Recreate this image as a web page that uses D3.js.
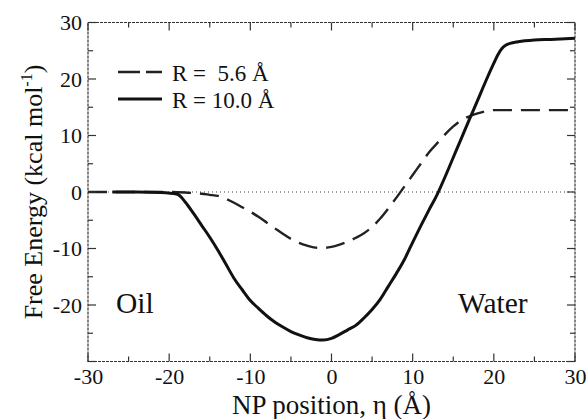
<!DOCTYPE html>
<html><head><meta charset="utf-8">
<script src="https://cdn.jsdelivr.net/npm/d3@7"></script>
<style>body{margin:0;background:#fff}svg{display:block}</style>
</head><body><svg id="c" width="588" height="419"></svg>
<script>
const etaSmall = [-30,-25,-20,-18,-16,-15,-14,-13,-12,-11,-10,-9,-8,-7,-6,-5,-4,-3,-2,-1,0,1,2,3,4,5,6,7,8,9,10,11,12,13,14,15,16,17,18,19,20,22,25,30];
const energySmall = [0,0,0,-0.1,-0.3,-0.5,-0.7,-1.2,-1.9,-2.7,-3.5,-4.4,-5.4,-6.4,-7.4,-8.3,-9.0,-9.5,-9.85,-9.9,-9.7,-9.3,-8.8,-8.1,-7.3,-6.2,-4.7,-2.9,-1.0,1.0,3.0,5.0,7.0,8.6,10.2,11.6,12.7,13.4,13.9,14.3,14.5,14.5,14.5,14.5];
const etaLarge = [-27,-24,-21,-19,-18,-17,-16,-15,-14,-13,-12,-11,-10,-9,-8,-7,-6,-5,-4,-3,-2,-1,0,1,2,3,4,5,6,7,8,9,10,11,12,13,14,15,16,17,18,19,20,20.5,21,21.5,22,23,25,27,30];
const energyLarge = [0,0,-0.1,-0.4,-1.8,-3.8,-5.9,-8.0,-10.3,-12.8,-15.3,-17.3,-19.2,-20.6,-21.9,-23.0,-23.9,-24.7,-25.3,-25.8,-26.1,-26.2,-25.9,-25.2,-24.4,-23.6,-22.3,-20.8,-19.0,-16.7,-14.4,-11.9,-8.9,-6.0,-3.2,-0.5,2.7,6.1,9.5,12.9,16.2,19.6,22.8,24.3,25.4,26.0,26.3,26.6,26.9,27.0,27.2];
const xTicks = [-30,-20,-10,0,10,20,30];
const yTicks = [-20,-10,0,10,20,30];
const legendLabels = ["R =  5.6 Å", "R = 10.0 Å"];
const regionLabels = ["Oil", "Water"];

const FONT = "Liberation Serif";
const svg = d3.select("#c");
const x = d3.scaleLinear().domain([-30,30]).range([88,575]);
const y = d3.scaleLinear().domain([-30,30]).range([361.5,22.5]);
const L = x.range()[0], R = x.range()[1], T = y.range()[1], B = y.range()[0];

svg.append("line").attr("x1",L).attr("x2",R).attr("y1",y(0)).attr("y2",y(0))
  .attr("stroke","#444").attr("stroke-width",1).attr("stroke-dasharray","1,3");

const line = d3.line().x(d=>x(d[0])).y(d=>y(d[1])).curve(d3.curveMonotoneX);
svg.append("path").datum(d3.zip(etaSmall,energySmall)).attr("d",line)
  .attr("fill","none").attr("stroke","#222").attr("stroke-width",2.4).attr("stroke-dasharray","19,9");
svg.append("path").datum(d3.zip(etaLarge,energyLarge)).attr("d",line)
  .attr("fill","none").attr("stroke","#111").attr("stroke-width",3);

const frame = svg.append("g").attr("stroke","#333").attr("stroke-width",1.2).attr("stroke-dasharray","3,1").attr("fill","none");
frame.append("rect").attr("x",L).attr("y",T).attr("width",R-L).attr("height",B-T);

const minorX = d3.range(-30,31,5), minorY = d3.range(-30,31,5);
const tk = svg.append("g").attr("stroke","#333").attr("stroke-width",1.2);
minorX.forEach(v=>{
  const len = v%10===0?8:5;
  tk.append("line").attr("x1",x(v)).attr("x2",x(v)).attr("y1",B).attr("y2",B-len);
  tk.append("line").attr("x1",x(v)).attr("x2",x(v)).attr("y1",T).attr("y2",T+len);
});
minorY.forEach(v=>{
  const len = v%10===0?8:5;
  tk.append("line").attr("y1",y(v)).attr("y2",y(v)).attr("x1",L).attr("x2",L+len);
  tk.append("line").attr("y1",y(v)).attr("y2",y(v)).attr("x1",R).attr("x2",R-len);
});

const xAxis = svg.append("g").attr("transform",`translate(0,${B})`)
  .call(d3.axisBottom(x).tickValues(xTicks).tickFormat(d=>String(d)).tickSize(0).tickPadding(7));
xAxis.attr("font-family",FONT).attr("font-size",22);
xAxis.select(".domain").remove();
xAxis.selectAll("text").attr("fill","#111").attr("font-family",FONT);
const yAxis = svg.append("g").attr("transform",`translate(${L},0)`)
  .call(d3.axisLeft(y).tickValues(yTicks).tickFormat(d=>String(d)).tickSize(0).tickPadding(6));
yAxis.attr("font-family",FONT).attr("font-size",22);
yAxis.select(".domain").remove();
yAxis.selectAll("text").attr("fill","#111").attr("font-family",FONT);

svg.append("text").attr("x",(L+R)/2).attr("y",414).attr("text-anchor","middle")
  .attr("font-family",FONT).attr("fill","#111").attr("font-size",27).text("NP position, η (Å)");
const yt = svg.append("text").attr("transform",`translate(42,${(T+B)/2}) rotate(-90)`)
  .attr("text-anchor","middle").attr("font-family",FONT).attr("fill","#111").attr("font-size",26);
yt.append("tspan").text("Free Energy (kcal mol");
yt.append("tspan").attr("font-size",16).attr("dy",-10).text("-1");
yt.append("tspan").attr("dy",10).text(")");

svg.append("line").attr("x1",118).attr("x2",162).attr("y1",72).attr("y2",72)
  .attr("stroke","#222").attr("stroke-width",2.4).attr("stroke-dasharray","22,6");
svg.append("line").attr("x1",118).attr("x2",162).attr("y1",99).attr("y2",99)
  .attr("stroke","#111").attr("stroke-width",3);
svg.append("text").attr("x",172).attr("y",81).attr("font-family",FONT).attr("fill","#111").attr("font-size",23).style("white-space","pre").text(legendLabels[0]);
svg.append("text").attr("x",172).attr("y",108).attr("font-family",FONT).attr("fill","#111").attr("font-size",23).text(legendLabels[1]);

svg.append("text").attr("x",116).attr("y",313).attr("font-family",FONT).attr("fill","#111").attr("font-size",29.5).text(regionLabels[0]);
svg.append("text").attr("x",458).attr("y",313).attr("font-family",FONT).attr("fill","#111").attr("font-size",29.5).text(regionLabels[1]);
</script></body></html>
